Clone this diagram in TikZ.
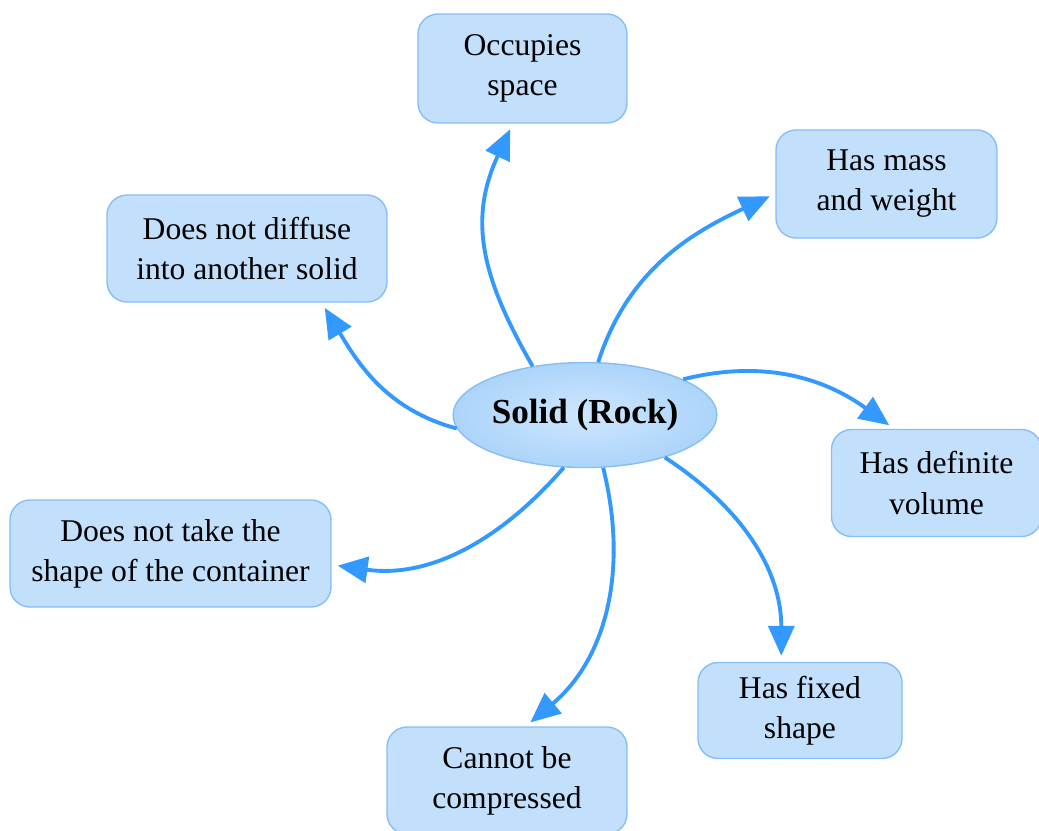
\documentclass[tikz,border=0pt]{standalone}
\usepackage{fontspec}
\setmainfont{Liberation Serif}
\usetikzlibrary{shapes.geometric,arrows.meta}
\definecolor{linkblue}{RGB}{51,153,255}
\definecolor{boxfill}{RGB}{194,224,252}
\definecolor{boxline}{RGB}{135,190,245}
\begin{document}
\begin{tikzpicture}[>={Triangle[length=3mm,width=2.6mm]},
	prop/.style={draw=boxline,fill=boxfill,rounded corners=2mm,align=center,inner sep=0pt,font=\fontsize{9}{11.4}\selectfont},
	link/.style={->,draw=linkblue,line width=1.1pt,shorten >=.6mm}]
	\useasboundingbox (0,0) rectangle (10.39,-8.3);

	\node[ellipse,draw=boxline,inner color={rgb,255:red,206;green,231;blue,254},outer color={rgb,255:red,172;green,212;blue,250},
		minimum width=2.5cm,minimum height=1.05cm,inner sep=0pt,font=\fontsize{10}{12}\selectfont\bfseries] (solid) at (5.85,-4.15) {Solid (Rock)};

	\node[prop,minimum width=2.09cm,minimum height=1.09cm] (occ) at (5.225,-.685) {Occupies\\space};
	\node[prop,minimum width=2.21cm,minimum height=1.08cm] (mass) at (8.865,-1.84) {Has mass\\and weight};
	\node[prop,minimum width=2.8cm,minimum height=1.07cm] (diff) at (2.47,-2.485) {Does not diffuse\\into another solid};
	\node[prop,minimum width=2.1cm,minimum height=1.07cm] (vol) at (9.365,-4.83) {Has definite\\volume};
	\node[prop,minimum width=3.21cm,minimum height=1.07cm] (take) at (1.705,-5.535) {Does not take the\\shape of the container};
	\node[prop,minimum width=2.04cm,minimum height=.96cm] (fixed) at (8.0,-7.105) {Has fixed\\shape};
	\node[prop,minimum width=2.4cm,minimum height=1.07cm] (comp) at (5.07,-7.805) {Cannot be\\compressed};

	\draw[link] (solid.137) to[out=120,in=245,looseness=1.1] (occ.-100);
	\draw[link] (solid.76) to[out=72,in=205] (mass.185);
	\draw[link] (solid.186) to[out=165,in=-59] (diff.-36);
	\draw[link] (solid.20) to[out=14,in=144] (vol.128);
	\draw[link] (solid.248) to[out=229,in=-8] (take.-4);
	\draw[link] (solid.-28) to[out=-33,in=90] (fixed.111);
	\draw[link] (solid.-71) to[out=-76,in=40] (comp.71);
\end{tikzpicture}
\end{document}
